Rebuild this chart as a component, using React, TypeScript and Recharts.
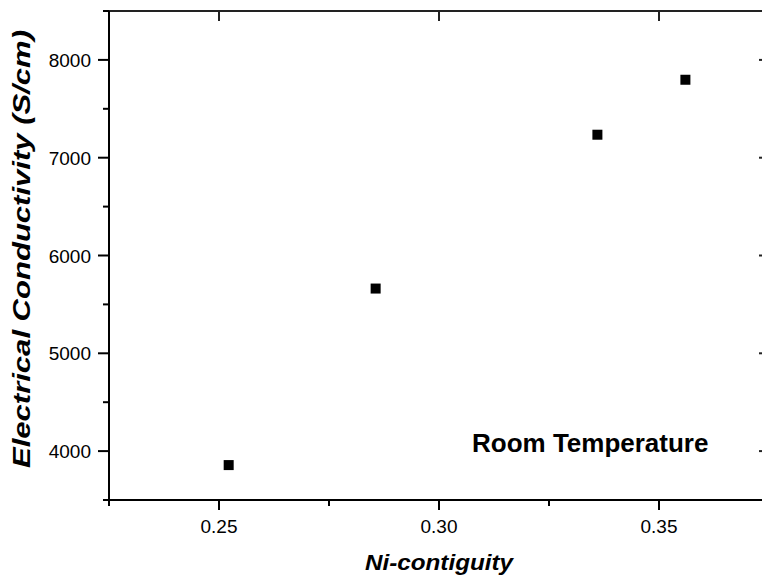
import React from 'react';
import { ScatterChart, Scatter, XAxis, YAxis, Label, ReferenceLine } from 'recharts';

const contiguity = [0.2522, 0.2856, 0.336, 0.356];
const conductivity = [3857, 5662, 7235, 7797];

const xMajorTicks = [0.25, 0.3, 0.35];
const xMinorTicks = [0.225, 0.275, 0.325, 0.375];
const yMajorTicks = [4000, 5000, 6000, 7000, 8000];
const yMinorTicks = [3500, 4500, 5500, 6500, 7500, 8500];

const xDomain = [0.225, 0.375];
const yDomain = [3500, 8500];

const data = contiguity.map((x, i) => ({ x, y: conductivity[i] }));
const xTicks = [...xMajorTicks, ...xMinorTicks].sort((a, b) => a - b);
const yTicks = [...yMajorTicks, ...yMinorTicks].sort((a, b) => a - b);

// plot box in pixels (layout only)
const PLOT_TOP = 11;
const PLOT_BOTTOM = 500;
const PLOT_LEFT = 109;
const PLOT_RIGHT = 769;

const INK = '#222';
const FONT = '"Liberation Sans", Arial, Helvetica, sans-serif';
const isIn = (list: number[], v: number) => list.some((t) => Math.abs(t - v) < 1e-9);

// outward ticks on the bottom, mirrored inward ticks on the top edge
const BottomTick = (props: any) => {
  const { x, y, payload } = props;
  const major = isIn(xMajorTicks, payload.value);
  const top = y - (PLOT_BOTTOM - PLOT_TOP);
  return (
    <g>
      <line x1={x} y1={y} x2={x} y2={y + (major ? 10 : 6)} stroke="#000" strokeWidth={2} />
      {major && <line x1={x} y1={top} x2={x} y2={top + 10} stroke={INK} strokeWidth={2} />}
      {major && (
        <text x={x} y={y + 33} textAnchor="middle" fontSize={19} fontFamily={FONT} fill="#000">
          {payload.value.toFixed(2)}
        </text>
      )}
    </g>
  );
};

// outward ticks on the left, mirrored inward ticks on the right edge
const LeftTick = (props: any) => {
  const { x, y, payload } = props;
  const major = isIn(yMajorTicks, payload.value);
  const right = x + (PLOT_RIGHT - PLOT_LEFT);
  return (
    <g>
      <line x1={x - (major ? 11 : 6)} y1={y} x2={x} y2={y} stroke="#000" strokeWidth={2} />
      {major && <line x1={right - 10} y1={y} x2={right} y2={y} stroke={INK} strokeWidth={2} />}
      {major && (
        <text x={x - 18} y={y + 7} textAnchor="end" fontSize={19} fontFamily={FONT} fill="#000">
          {payload.value}
        </text>
      )}
    </g>
  );
};

const SquareDot = (props: any) => {
  const { cx, cy } = props;
  return <rect x={cx - 5} y={cy - 5} width={10} height={10} fill="#000" />;
};

export default function App() {
  const axisLine = { stroke: '#000', strokeWidth: 2 };
  return (
    <div style={{ position: 'relative', width: 762, height: 577, overflow: 'hidden', background: '#fff', fontFamily: FONT }}>
      <style>{`body{margin:0}`}</style>
      <ScatterChart width={770} height={577} margin={{ top: PLOT_TOP, right: 770 - PLOT_RIGHT, bottom: 0, left: 0 }}>
        <XAxis
          dataKey="x"
          type="number"
          domain={xDomain}
          ticks={xTicks}
          interval={0}
          height={77}
          axisLine={axisLine}
          tickLine={false}
          tickSize={0}
          tickMargin={0}
          tick={<BottomTick />}
          label={
            <Label
              content={(p: any) => (
                <text
                  x={p.viewBox.x + p.viewBox.width / 2}
                  y={570}
                  textAnchor="middle"
                  fontSize={22}
                  textLength={148}
                  lengthAdjust="spacingAndGlyphs"
                  fontWeight="bold"
                  fontStyle="italic"
                  fontFamily={FONT}
                  fill="#000"
                >
                  Ni-contiguity
                </text>
              )}
            />
          }
        />
        <YAxis
          dataKey="y"
          type="number"
          domain={yDomain}
          ticks={yTicks}
          interval={0}
          width={PLOT_LEFT}
          axisLine={axisLine}
          tickLine={false}
          tickSize={0}
          tickMargin={0}
          tick={<LeftTick />}
          label={
            <Label
              content={() => (
                <text
                  x={30}
                  y={249}
                  transform="rotate(-90, 30, 249)"
                  textAnchor="middle"
                  fontSize={24}
                  textLength={438}
                  lengthAdjust="spacingAndGlyphs"
                  fontWeight="bold"
                  fontStyle="italic"
                  fontFamily={FONT}
                  fill="#000"
                >
                  Electrical Conductivity (S/cm)
                </text>
              )}
            />
          }
        />
        <ReferenceLine y={yDomain[1]} stroke={INK} strokeWidth={2} />
        <ReferenceLine x={xDomain[1]} stroke={INK} strokeWidth={2} />
        <Scatter data={data} shape={<SquareDot />} isAnimationActive={false} />
      </ScatterChart>
      <div
        style={{
          position: 'absolute',
          left: 472,
          top: 430,
          fontSize: 26,
          lineHeight: '26px',
          fontWeight: 'bold',
          fontFamily: FONT,
          color: '#000',
          whiteSpace: 'nowrap',
        }}
      >
        Room Temperature
      </div>
    </div>
  );
}
